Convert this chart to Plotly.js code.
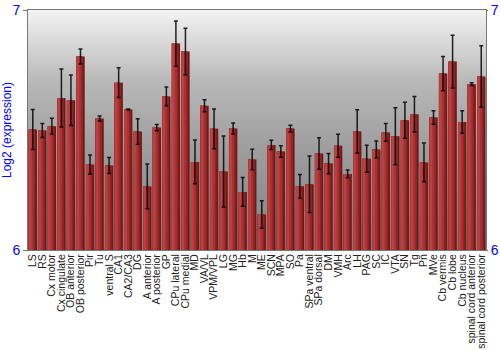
<!DOCTYPE html>
<html>
<head>
<meta charset="utf-8">
<script src="https://cdn.plot.ly/plotly-3.0.1.min.js"></script>
<style>html,body{margin:0;padding:0;background:#fff;}#chart{width:500px;height:350px;}</style>
</head>
<body>
<div id="chart"></div>
<script>
const regions = ["LS","RS","Cx motor","Cx cingulate","OB anterior","OB posterior","Pir","Tu","ventral S","CA1","CA2/CA3","DG","A anterior","A posterior","GP","CPu lateral","CPu medial","MD","VA/VL","VPM/VPL","LG","MG","Hb","M","ME","SCN","MPA","SO","Pa","SPa ventral","SPa dorsal","DM","VMH","Arc","LH","PAG","SC","IC","VTA","SN","Tg","Pn","MVe","Cb vermis","Cb lobe","Cb nucleus","spinal cord anterior","spinal cord posterior"];
const expression = [6.502,6.498,6.516,6.633,6.624,6.806,6.356,6.548,6.352,6.697,6.585,6.494,6.265,6.510,6.640,6.860,6.827,6.367,6.601,6.505,6.327,6.506,6.242,6.377,6.148,6.438,6.410,6.506,6.266,6.274,6.402,6.360,6.434,6.317,6.494,6.380,6.419,6.490,6.474,6.541,6.566,6.365,6.552,6.735,6.785,6.533,6.691,6.723];
const errors = [0.083,0.029,0.033,0.121,0.105,0.031,0.040,0.010,0.033,0.062,0.002,0.053,0.093,0.013,0.039,0.094,0.097,0.091,0.025,0.083,0.148,0.023,0.060,0.043,0.057,0.019,0.024,0.014,0.049,0.118,0.066,0.042,0.048,0.016,0.090,0.056,0.035,0.037,0.119,0.075,0.074,0.081,0.028,0.071,0.110,0.047,0.006,0.128];
const yTicks = [6, 7];

const bgSvg = '<svg xmlns="http://www.w3.org/2000/svg" width="100" height="100" preserveAspectRatio="none">' +
  '<defs><linearGradient id="g" x1="0" y1="0" x2="0" y2="1">' +
  '<stop offset="0" stop-color="#f3f3f3"/><stop offset="0.3" stop-color="#b8b8b8"/>' +
  '<stop offset="0.6" stop-color="#9c9c9c"/><stop offset="1" stop-color="#808080"/>' +
  '</linearGradient></defs><rect width="100" height="100" fill="url(#g)"/></svg>';
const bgUri = 'data:image/svg+xml;base64,' + btoa(bgSvg);

function barLayer(color, width, offset) {
  return {type:'bar', x: regions, y: expression, width: width, offset: offset,
    marker:{color: color, line:{width:0}}, hoverinfo:'skip', showlegend:false};
}
const traces = [
  barLayer('#6e1818', 0.88, -0.44),
  barLayer('#8e2424', 0.70, -0.43),
  barLayer('#a83030', 0.52, -0.42),
  barLayer('#bc4040', 0.28, -0.41),
  {type:'scatter', mode:'markers', x: regions, y: expression, yaxis:'y2',
   marker:{opacity:0, size:1}, hoverinfo:'skip', showlegend:false,
   error_y:{type:'data', array: errors, visible:true, color:'rgba(0,0,0,0.85)', thickness:1.5, width:2}}
];

const layout = {
  width:500, height:350,
  margin:{l:28, r:14, t:10, b:100, pad:0},
  paper_bgcolor:'#ffffff', plot_bgcolor:'rgba(0,0,0,0)',
  barmode:'overlay',
  font:{family:'Liberation Sans, Arial, sans-serif'},
  images:[{source: bgUri, xref:'paper', yref:'paper', x:0, y:1, sizex:1, sizey:1,
    sizing:'stretch', xanchor:'left', yanchor:'top', layer:'below'}],
  xaxis:{type:'category', tickmode:'array', tickvals: regions, ticktext: regions,
    tickangle:-90, tickfont:{size:10.5, color:'#222'}, ticks:'', ticklabelstandoff:-1,
    showline:true, linecolor:'#777', linewidth:1, mirror:true, showgrid:false,
    range:[-0.5, regions.length-0.5], automargin:false},
  yaxis:{range:[6,7], tickvals:yTicks, ticktext:yTicks.map(String), tickfont:{size:14, color:'#0000ff'},
    ticks:'outside', ticklen:4, tickcolor:'#777', showline:true, linecolor:'#777', linewidth:1,
    showgrid:false, zeroline:false, automargin:false,
    title:{text:'Log2 (expression)', font:{size:12, color:'#0000ff'}, standoff:2}},
  yaxis2:{range:[6,7], overlaying:'y', side:'right', tickvals:yTicks, ticktext:yTicks.map(String),
    tickfont:{size:14, color:'#0000ff'}, ticks:'outside', ticklen:1, tickcolor:'#777',
    showline:true, linecolor:'#777', showgrid:false, zeroline:false, automargin:false}
};
Plotly.newPlot('chart', traces, layout, {staticPlot:true, displayModeBar:false});
</script>
</body>
</html>
